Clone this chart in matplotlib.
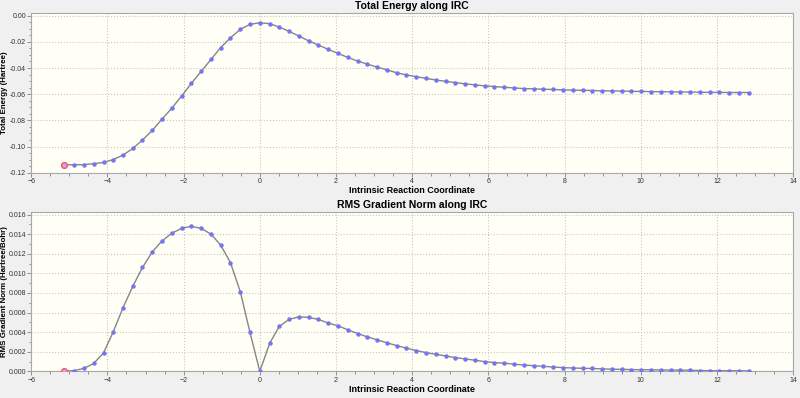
import matplotlib.pyplot as plt
from matplotlib.ticker import MultipleLocator, FormatStrFormatter

plt.rcParams['font.family'] = ['Liberation Sans', 'DejaVu Sans']

# IRC points (reaction coordinate)
irc = [-5.13, -4.87, -4.62, -4.36, -4.10, -3.85, -3.59, -3.33, -3.08, -2.82,
       -2.57, -2.31, -2.05, -1.80, -1.54, -1.28, -1.03, -0.77, -0.51, -0.26,
       0.00, 0.26, 0.51, 0.77, 1.03, 1.28, 1.54, 1.80, 2.05, 2.31,
       2.57, 2.82, 3.08, 3.34, 3.59, 3.85, 4.11, 4.36, 4.62, 4.88,
       5.13, 5.39, 5.65, 5.90, 6.16, 6.42, 6.67, 6.93, 7.19, 7.44,
       7.70, 7.96, 8.21, 8.47, 8.73, 8.98, 9.24, 9.50, 9.75, 10.01,
       10.27, 10.52, 10.78, 11.04, 11.29, 11.55, 11.81, 12.06, 12.32, 12.58,
       12.83]

energy = [-0.1139, -0.1139, -0.1138, -0.1131, -0.1121, -0.1100, -0.1065, -0.1014, -0.0950, -0.0876,
          -0.0791, -0.0707, -0.0613, -0.0518, -0.0426, -0.0334, -0.0245, -0.0169, -0.0104, -0.0066,
          -0.0054, -0.0061, -0.0087, -0.0120, -0.0156, -0.0192, -0.0225, -0.0258, -0.0288, -0.0319,
          -0.0347, -0.0370, -0.0393, -0.0414, -0.0436, -0.0453, -0.0466, -0.0479, -0.0491, -0.0502,
          -0.0511, -0.0521, -0.0529, -0.0536, -0.0542, -0.0547, -0.0552, -0.0557, -0.0559, -0.0562,
          -0.0564, -0.0567, -0.0569, -0.0570, -0.0572, -0.0574, -0.0575, -0.0576, -0.0578, -0.0579,
          -0.0580, -0.0581, -0.0582, -0.0583, -0.0583, -0.0585, -0.0586, -0.0586, -0.0587, -0.0587,
          -0.0587]

grad = [0.00003, 0.00007, 0.0003, 0.0008, 0.0019, 0.0040, 0.0065, 0.0087, 0.0106, 0.0122,
        0.0133, 0.0141, 0.0146, 0.0148, 0.0146, 0.0140, 0.0129, 0.0111, 0.0081, 0.0040,
        0.0000, 0.00287, 0.00458, 0.00530, 0.00557, 0.00550, 0.00530, 0.00492, 0.00465, 0.00424,
        0.00386, 0.00352, 0.00321, 0.00291, 0.00263, 0.00236, 0.00212, 0.00191, 0.00174, 0.00157,
        0.00140, 0.00127, 0.00113, 0.00099, 0.00089, 0.00083, 0.00074, 0.00064, 0.00058, 0.00051,
        0.00044, 0.00038, 0.00034, 0.00031, 0.00029, 0.00025, 0.00022, 0.00020, 0.00018, 0.00017,
        0.00016, 0.00014, 0.00013, 0.00012, 0.00011, 0.00008, 0.00007, 0.00007, 0.00006, 0.00006,
        0.00004]

bg = '#f0f0f0'
plot_bg = '#fffff5'


def style_axes(ax, title, ylabel, yfmt, ymajor, yminor):
    ax.set_facecolor(plot_bg)
    ax.set_xlim(-6, 14)
    ax.xaxis.set_major_locator(MultipleLocator(2))
    ax.xaxis.set_minor_locator(MultipleLocator(0.5))
    ax.yaxis.set_major_locator(MultipleLocator(ymajor))
    ax.yaxis.set_minor_locator(MultipleLocator(yminor))
    ax.yaxis.set_major_formatter(FormatStrFormatter(yfmt))
    ax.tick_params(which='both', direction='out', colors='#808080',
                   labelcolor='#333333', labelsize=5, width=0.6, pad=1)
    ax.tick_params(which='major', length=2.8)
    ax.tick_params(which='minor', length=1.8)
    for s in ax.spines.values():
        s.set_color('#a8a8a8')
        s.set_linewidth(0.8)
    ax.grid(True, which='major', linestyle=':', color='#c8c8c8', linewidth=0.8)
    ax.set_title(title, fontsize=7.5, fontweight='bold', pad=3)
    ax.set_xlabel('Intrinsic Reaction Coordinate', fontsize=6.5, fontweight='bold', labelpad=1)
    ax.set_ylabel(ylabel, fontsize=5.7, fontweight='bold')
    ax.yaxis.set_label_coords(-0.0305, 0.5)


def draw_curve(ax, y):
    ax.plot(irc, y, color='#858585', linewidth=1.0, zorder=2)
    ax.plot(irc, y, linestyle='none', marker='o', markersize=2.2,
            markerfacecolor='#7474f8', markeredgecolor='#7474f8', zorder=3)
    ax.plot(irc[0], y[0], linestyle='none', marker='o', markersize=4.2,
            markerfacecolor='#c8a0ff', markeredgecolor='#ff5050',
            markeredgewidth=0.9, zorder=4)


fig = plt.figure(figsize=(8, 3.98), dpi=100, facecolor=bg)

ax1 = fig.add_axes([0.039, 0.566, 0.9525, 0.4005])
draw_curve(ax1, energy)
style_axes(ax1, 'Total Energy along IRC', 'Total Energy (Hartree)', '%.2f', 0.02, 0.005)
ax1.set_ylim(-0.12, 0.0018)

ax2 = fig.add_axes([0.039, 0.067, 0.9525, 0.400])
draw_curve(ax2, grad)
style_axes(ax2, 'RMS Gradient Norm along IRC', 'RMS Gradient Norm (Hartree/Bohr)', '%.3f', 0.002, 0.001)
ax2.set_ylim(0, 0.01625)

fig.savefig('out.png', dpi=100, facecolor=bg)
